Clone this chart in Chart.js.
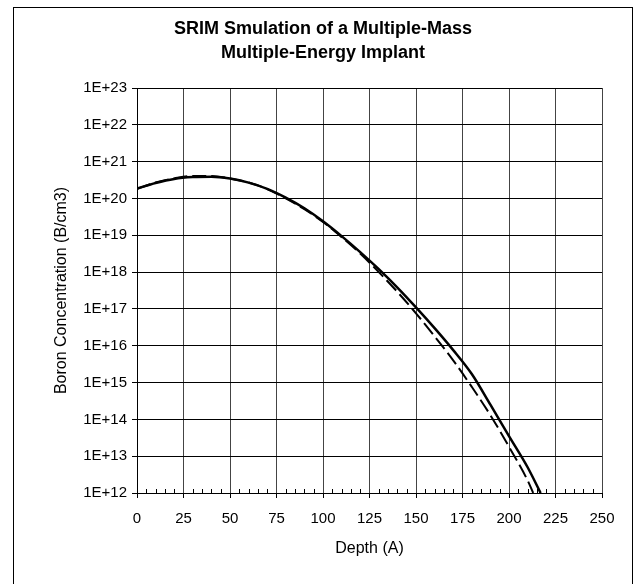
<!DOCTYPE html>
<html>
<head>
<meta charset="utf-8">
<title>SRIM Smulation</title>
<script src="https://cdn.jsdelivr.net/npm/chart.js"></script>
<style>
  html, body { margin: 0; padding: 0; background: #fff; overflow: hidden; }
  #wrap { position: relative; width: 633px; height: 584px; }
  #frame { position: absolute; left: 13px; top: 7px; width: 620px; height: 620px; border: 1px solid #000; box-sizing: border-box; }
  #chart { position: absolute; left: 0; top: 0; }
  #title {
    position: absolute; left: 13px; top: 16px; width: 620px;
    text-align: center; font: bold 18px/24px 'Liberation Sans', Arial, sans-serif; color: #000;
  }
</style>
</head>
<body>
<div id="wrap">
  <div id="frame"></div>
  <canvas id="chart" width="633" height="584"></canvas>
  <div id="title">SRIM Smulation of a Multiple-Mass<br>Multiple-Energy Implant</div>
</div>
<script>
// depth in Angstrom, concentration in B/cm3
const solidDepth = [0, 10, 20, 30, 40, 50, 60, 70, 80, 90, 100, 110, 120, 130, 140, 150, 160, 170, 180, 190, 200, 210, 217];
const solidConc  = [1.86e20, 2.63e20, 3.39e20, 3.8e20, 3.89e20, 3.47e20, 2.69e20, 1.82e20, 1.05e20, 5.4e19, 2.4e19,
                    9.5e18, 3.5e18, 1.2e18, 3.8e17, 1.1e17, 3.0e16, 7.6e15, 1.7e15, 2.5e14, 3.5e13, 5.0e12, 1.0e12];

const dashDepth = [0, 10, 20, 30, 40, 50, 60, 70, 80, 90, 100, 110, 120, 130, 140, 150, 160, 170, 180, 190, 200, 210, 213];
const dashConc  = [1.8e20, 2.7e20, 3.5e20, 4.1e20, 4.1e20, 3.5e20, 2.7e20, 1.8e20, 1.0e20, 5.1e19, 2.3e19,
                   8.9e18, 3.2e18, 1.0e18, 2.9e17, 7.6e16, 1.8e16, 4.0e15, 7.6e14, 1.3e14, 1.8e13, 2.2e12, 1.0e12];

const xTicks = [0, 25, 50, 75, 100, 125, 150, 175, 200, 225, 250];
const yExponents = [12, 13, 14, 15, 16, 17, 18, 19, 20, 21, 22, 23];

const FONT = "'Liberation Sans', Arial, sans-serif";

function toPoints(xs, ys) {
  return xs.map((x, i) => ({ x: x, y: ys[i] }));
}

// small minor ticks every 5 A along the bottom axis
const minorTicks = {
  id: 'minorTicks',
  afterDatasetsDraw(chart) {
    const ctx = chart.ctx;
    const xs = chart.scales.x;
    const bottom = chart.chartArea.bottom;
    ctx.save();
    ctx.strokeStyle = '#000';
    ctx.lineWidth = 1;
    ctx.beginPath();
    for (let v = 5; v < 250; v += 5) {
      if (v % 25 === 0) continue;
      const px = Math.round(xs.getPixelForValue(v)) + 0.5;
      ctx.moveTo(px, bottom);
      ctx.lineTo(px, bottom - 4);
    }
    ctx.stroke();
    ctx.restore();
  }
};

new Chart(document.getElementById('chart'), {
  type: 'scatter',
  data: {
    datasets: [
      {
        label: 'SRIM',
        data: toPoints(dashDepth, dashConc),
        showLine: true,
        borderColor: '#000',
        borderWidth: 2,
        borderDash: [14, 5],
        pointRadius: 0,
        cubicInterpolationMode: 'monotone'
      },
      {
        label: 'Model',
        data: toPoints(solidDepth, solidConc),
        showLine: true,
        borderColor: '#000',
        borderWidth: 2.5,
        pointRadius: 0,
        cubicInterpolationMode: 'monotone'
      }
    ]
  },
  options: {
    responsive: false,
    animation: false,
    devicePixelRatio: 1,
    layout: { padding: { left: 14, right: 31, top: 88, bottom: 0 } },
    plugins: {
      legend: { display: false },
      tooltip: { enabled: false },
      title: { display: false }
    },
    scales: {
      x: {
        type: 'linear',
        min: 0,
        max: 250,
        afterBuildTicks: s => { s.ticks = xTicks.map(v => ({ value: v })); },
        afterFit: s => { s.height = 91; },
        ticks: { color: '#000', font: { family: FONT, size: 15 }, padding: 12, maxRotation: 0 },
        grid: { color: '#444', lineWidth: 1, tickLength: 5, tickColor: '#000' },
        border: { color: '#000', width: 1 },
        title: {
          display: true,
          text: 'Depth (A)',
          color: '#000',
          font: { family: FONT, size: 16 },
          padding: { top: 0, bottom: 26 }
        }
      },
      y: {
        type: 'logarithmic',
        min: 1e12,
        max: 1e23,
        afterBuildTicks: s => { s.ticks = yExponents.map(e => ({ value: Math.pow(10, e) })); },
        afterFit: s => { s.width = 123; },
        ticks: {
          color: '#000',
          font: { family: FONT, size: 15 },
          padding: 5,
          callback: v => '1E+' + Math.round(Math.log10(v))
        },
        grid: { color: '#000', lineWidth: 1, tickLength: 5, tickColor: '#000' },
        border: { color: '#000', width: 1 },
        title: {
          display: true,
          text: 'Boron Concentration (B/cm3)',
          color: '#000',
          font: { family: FONT, size: 16 },
          padding: { top: 38, bottom: 0 }
        }
      }
    }
  },
  plugins: [minorTicks]
});
</script>
</body>
</html>
